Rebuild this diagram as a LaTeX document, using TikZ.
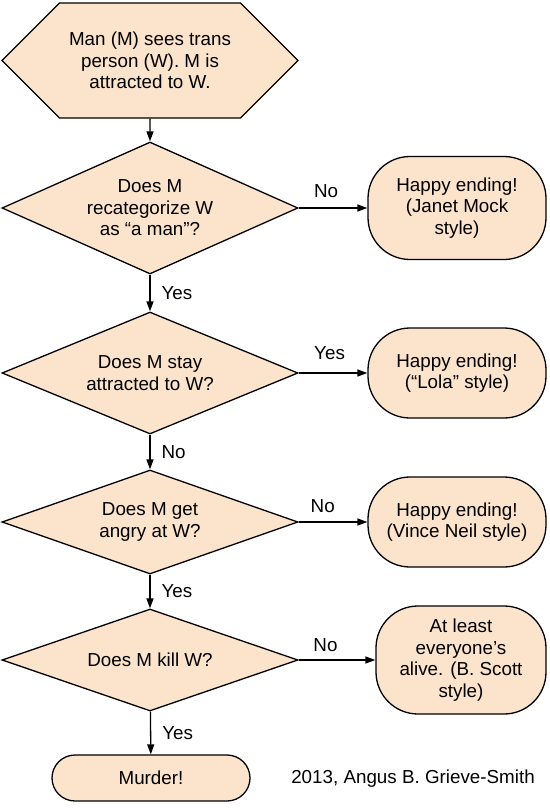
\documentclass[tikz,border=0pt]{standalone}
\usepackage{fontspec}
\setmainfont{Liberation Sans}
\usetikzlibrary{arrows.meta,positioning,shapes.geometric,shapes.symbols}
\definecolor{peach}{RGB}{252,228,204}

\begin{document}
\begin{tikzpicture}[x=1pt,y=-1pt,
  every node/.style={font=\fontsize{18.8}{21.6}\selectfont},
  base/.style={draw,fill=peach,line width=1.3pt,align=center,inner sep=0pt},
  start/.style={base,signal,signal to=west and east,signal pointer angle=90,minimum width=296pt,minimum height=115pt},
  ask/.style={base,diamond,minimum width=296pt},
  stop/.style={base,rectangle,rounded corners=42pt,minimum width=178pt},
  arr/.style={-{Triangle[length=10pt,width=7pt]},line width=1.3pt},
  lbl/.style={inner sep=3pt}]
\useasboundingbox (0,0) rectangle (549,808);
\node[start] (see) at (150,60.5) {Man (M) sees trans\\person (W). M is\\attracted to W.};
\node[ask,aspect=2.24,minimum height=132pt] (recat) at (150,208) {Does M\\recategorize W\\as “a man”?};
\node[stop,minimum height=103pt] (mock) at (457,208) {Happy ending!\\(Janet Mock\\style)};
\node[ask,aspect=2.43,minimum height=122pt] (stay) at (150,373) {Does M stay\\attracted to W?};
\node[stop,minimum height=90pt] (lola) at (457,373) {Happy ending!\\(“Lola” style)};
\node[ask,aspect=2.85,minimum height=104pt] (angry) at (150,522) {Does M get\\angry at W?};
\node[stop,minimum height=90pt] (neil) at (457,522) {Happy ending!\\(Vince Neil style)};
\node[ask,aspect=2.9,minimum height=102pt] (kill) at (150,660) {Does M kill W?};
\node[stop,minimum width=170pt,minimum height=108pt] (scott) at (461,660) {At least\\everyone’s\\alive. (B. Scott\\style)};
\node[stop,rounded corners=23pt,minimum width=198pt,minimum height=46pt] (murder) at (151,778) {Murder!};
\node (credit) at (413,779) {2013, Angus B. Grieve-Smith};
\draw[arr] (see) -- (recat);
\draw[arr] (recat) -- node[lbl,above=7pt,pos=.4]{No} (mock);
\draw[arr] (recat) -- node[lbl,right=8pt]{Yes} (stay);
\draw[arr] (stay) -- node[lbl,above=10pt,pos=.45]{Yes} (lola);
\draw[arr] (stay) -- node[lbl,right=8pt]{No} (angry);
\draw[arr] (angry) -- node[lbl,above=6pt,pos=.35]{No} (neil);
\draw[arr] (angry) -- node[lbl,right=8pt]{Yes} (kill);
\draw[arr] (kill) -- node[lbl,above=5pt,pos=.35]{No} (scott);
\draw[arr] (kill) -- node[lbl,right=8pt]{Yes} (murder);
\end{tikzpicture}
\end{document}
